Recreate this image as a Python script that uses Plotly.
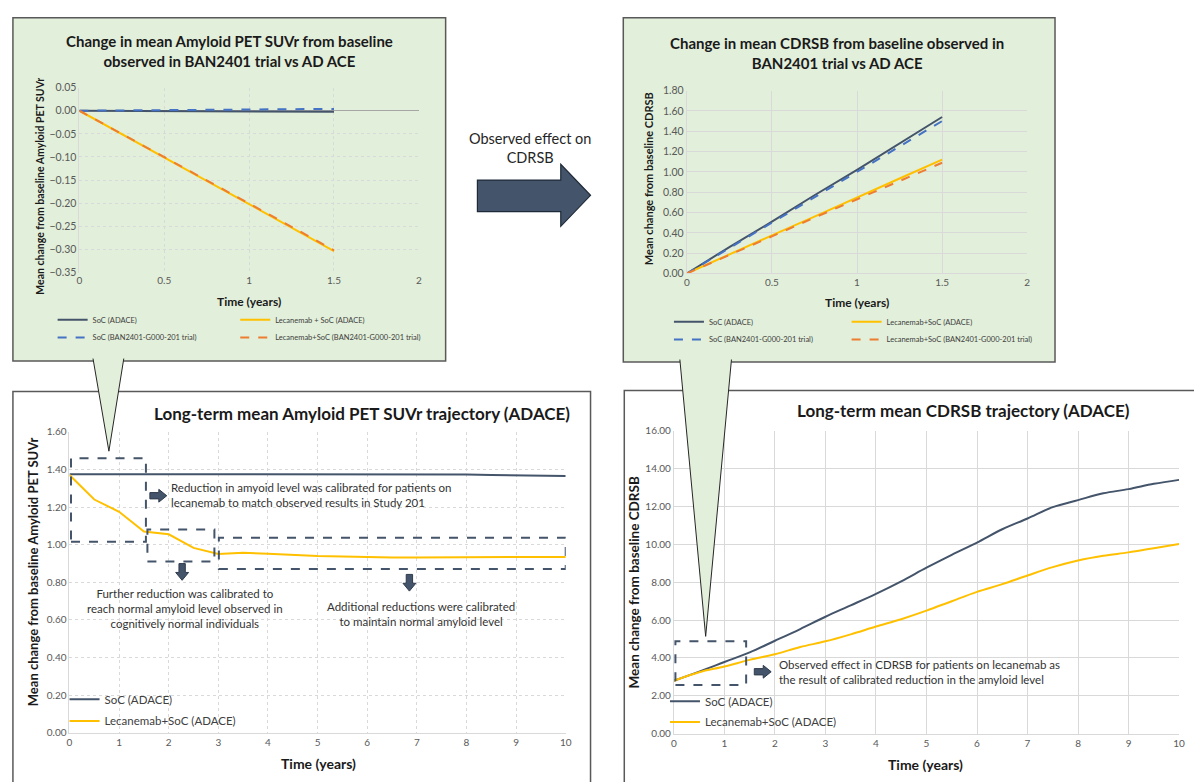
import plotly.graph_objects as go

W, H = 1194, 782
FONT = "Lato"

# ---------------- data ----------------
# Top-left: change in mean amyloid PET SUVr (trial period)
tl_time = [0, 0.25, 0.5, 0.75, 1.0, 1.25, 1.5]
tl_soc_adace = [0, -0.0003, -0.0007, -0.001, -0.0013, -0.0017, -0.002]
tl_lec_adace = [0, -0.051, -0.101, -0.152, -0.202, -0.253, -0.304]
tl_soc_trial = [0, 0.0007, 0.0013, 0.002, 0.0027, 0.0033, 0.004]
tl_lec_trial = [0, -0.050, -0.100, -0.151, -0.201, -0.251, -0.302]

# Top-right: change in mean CDRSB (trial period)
tr_time = [0, 0.25, 0.5, 0.75, 1.0, 1.25, 1.5]
tr_soc_adace = [0, 0.26, 0.51, 0.77, 1.02, 1.28, 1.54]
tr_lec_adace = [0, 0.19, 0.375, 0.56, 0.75, 0.935, 1.12]
tr_soc_trial = [0, 0.25, 0.50, 0.75, 1.00, 1.25, 1.50]
tr_lec_trial = [0, 0.18, 0.365, 0.55, 0.73, 0.91, 1.09]

# Bottom-left: long-term amyloid PET SUVr
bl_time = [0, 0.5, 1, 1.5, 2, 2.5, 3, 3.5, 4, 4.5, 5, 5.5, 6, 6.5, 7, 7.5, 8, 8.5, 9, 9.5, 10]
bl_soc = [1.375, 1.375, 1.375, 1.375, 1.375, 1.376, 1.376, 1.376, 1.377, 1.377, 1.377,
          1.377, 1.377, 1.377, 1.376, 1.375, 1.373, 1.370, 1.368, 1.366, 1.365]
bl_lec = [1.370, 1.240, 1.175, 1.070, 1.055, 0.983, 0.950, 0.957, 0.952, 0.945, 0.940,
          0.937, 0.933, 0.932, 0.932, 0.933, 0.935, 0.935, 0.935, 0.935, 0.935]

# Bottom-right: long-term CDRSB
br_time = [0, 0.5, 1, 1.5, 2, 2.5, 3, 3.5, 4, 4.5, 5, 5.5, 6, 6.5, 7, 7.5, 8, 8.5, 9, 9.5, 10]
br_soc = [2.80, 3.28, 3.79, 4.30, 4.91, 5.53, 6.18, 6.78, 7.39, 8.05, 8.77,
          9.45, 10.10, 10.80, 11.37, 11.97, 12.34, 12.70, 12.92, 13.20, 13.41]
br_lec = [2.80, 3.25, 3.55, 3.90, 4.20, 4.58, 4.88, 5.25, 5.66, 6.05, 6.50,
          7.00, 7.49, 7.90, 8.36, 8.80, 9.15, 9.40, 9.58, 9.80, 10.02]

C_SOC = "#44546A"
C_LEC = "#FFC000"
C_SOC_T = "#4472C4"
C_LEC_T = "#ED7D31"
GREEN = "#E2EFDA"
BORDER = "#595959"
GRID = "#D9D9D9"
TICK = "#595959"


def X(p):
    return p / W


def Y(p):
    return 1 - p / H


fig = go.Figure()


def add_line(x, y, name, color, dash, ax, legend, width=2, shape="linear"):
    fig.add_trace(go.Scatter(
        x=x, y=y, name=name, mode="lines",
        line=dict(color=color, width=width, dash=dash, shape=shape),
        xaxis="x" + ax, yaxis="y" + ax, legend=legend, showlegend=True,
        hoverinfo="skip"))


# top-left
add_line(tl_time, tl_soc_adace, "SoC (ADACE)", C_SOC, "solid", "", "legend")
add_line(tl_time, tl_lec_adace, "Lecanemab + SoC (ADACE)", C_LEC, "solid", "", "legend2")
add_line(tl_time, tl_soc_trial, "SoC (BAN2401-G000-201 trial)", C_SOC_T, "dash", "", "legend3")
add_line(tl_time, tl_lec_trial, "Lecanemab+SoC (BAN2401-G000-201 trial)", C_LEC_T, "dash", "", "legend4")
# top-right
add_line(tr_time, tr_soc_adace, "SoC (ADACE)", C_SOC, "solid", "2", "legend5")
add_line(tr_time, tr_lec_adace, "Lecanemab+SoC (ADACE)", C_LEC, "solid", "2", "legend6")
add_line(tr_time, tr_soc_trial, "SoC (BAN2401-G000-201 trial)", C_SOC_T, "dash", "2", "legend7")
add_line(tr_time, tr_lec_trial, "Lecanemab+SoC (BAN2401-G000-201 trial)", C_LEC_T, "dash", "2", "legend8")
# bottom-left
add_line(bl_time, bl_soc, "SoC (ADACE)", C_SOC, "solid", "3", "legend9")
add_line(bl_time, bl_lec, "Lecanemab+SoC (ADACE)", C_LEC, "solid", "3", "legend10")
# bottom-right
add_line(br_time, br_soc, "SoC (ADACE)", C_SOC, "solid", "4", "legend11", shape="spline")
add_line(br_time, br_lec, "Lecanemab+SoC (ADACE)", C_LEC, "solid", "4", "legend12", shape="spline")

# ---------------- axes ----------------
tickfont_small = dict(family=FONT, size=10, color=TICK)


def xaxis(dom, rng, dtick, anchor, griddash):
    return dict(domain=[X(dom[0]), X(dom[1])], range=rng, dtick=dtick, anchor=anchor,
                showgrid=True, gridcolor=GRID, griddash=griddash, gridwidth=1,
                zeroline=False, showline=False, ticks="", tickfont=tickfont_small,
                fixedrange=True)


def yaxis(dom, rng, dtick, anchor, griddash, fmt=".2f"):
    return dict(domain=[Y(dom[1]), Y(dom[0])], range=rng, dtick=dtick, anchor=anchor,
                showgrid=True, gridcolor=GRID, griddash=griddash, gridwidth=1,
                zeroline=False, showline=True, linecolor=GRID, linewidth=1,
                ticks="", tickformat=fmt, tickfont=tickfont_small, fixedrange=True)


layout = dict(
    width=W, height=H, margin=dict(l=0, r=0, t=0, b=0),
    paper_bgcolor="white", plot_bgcolor="rgba(0,0,0,0)",
    font=dict(family=FONT, color="#262626"),
    xaxis=xaxis((77, 419), [0, 2], 0.5, "y", "dot"),
    yaxis=yaxis((82, 270), [-0.35, 0.05], 0.05, "x", "dot"),
    xaxis2=xaxis((689, 1032), [0, 2], 0.5, "y2", "solid"),
    yaxis2=yaxis((85, 271), [0, 1.8], 0.2, "x2", "solid"),
    xaxis3=xaxis((67, 567), [0, 10], 1, "y3", "dot"),
    yaxis3=yaxis((432, 738), [0, 1.6], 0.2, "x3", "dot"),
    xaxis4=xaxis((676, 1185), [0, 10], 1, "y4", "solid"),
    yaxis4=yaxis((431, 739), [0, 16], 2, "x4", "solid"),
)
layout["yaxis"].update(zeroline=True, zerolinecolor="#A6A6A6", zerolinewidth=1.2)
layout["xaxis2"].update(showline=True, linecolor=GRID)
layout["xaxis3"].update(showline=True, linecolor=GRID)
layout["xaxis4"].update(showline=True, linecolor=GRID)
layout["yaxis2"]["tickfont"] = dict(family=FONT, size=10.5, color=TICK)
layout["yaxis"]["tickfont"] = dict(family=FONT, size=10.5, color=TICK)

# legends: one entry each, positioned like the reference
leg_specs = [
    ("legend", 50, 318, 7.5), ("legend2", 234, 318, 7.5),
    ("legend3", 50, 336, 7.5), ("legend4", 234, 336, 7.5),
    ("legend5", 671, 320, 7.5), ("legend6", 850, 320, 7.5),
    ("legend7", 671, 338, 7.5), ("legend8", 850, 338, 7.5),
    ("legend9", 62, 704, 11.5), ("legend10", 62, 726, 11.5),
    ("legend11", 667, 706, 11.5), ("legend12", 667, 727, 11.5),
]
for key, lx, ly, fs in leg_specs:
    layout[key] = dict(x=X(lx), y=Y(ly), xanchor="left", yanchor="middle",
                       bgcolor="rgba(0,0,0,0)", borderwidth=0,
                       font=dict(family=FONT, size=fs, color="#404040"),
                       itemwidth=30, tracegroupgap=0, itemclick=False,
                       itemdoubleclick=False)

fig.update_layout(**layout)

# ---------------- shapes ----------------
shapes = []


def rect_px(x0, y0, x1, y1, fill, layer="below", color=BORDER, width=1.5):
    shapes.append(dict(type="rect", xref="paper", yref="paper",
                       x0=X(x0), x1=X(x1), y0=Y(y1), y1=Y(y0),
                       fillcolor=fill, line=dict(color=color, width=width),
                       layer=layer))


def path_px(points, fill, color, width=1.0, close=True, layer="above"):
    d = "M " + " L ".join(f"{X(a):.5f},{Y(b):.5f}" for a, b in points)
    if close:
        d += " Z"
    shapes.append(dict(type="path", xref="paper", yref="paper", path=d,
                       fillcolor=fill, line=dict(color=color, width=width),
                       layer=layer))


# panels
rect_px(10, 11, 446, 360, GREEN)
rect_px(625, 11, 1060, 361, GREEN)
rect_px(10, 391, 592, 800, "white")
rect_px(626, 390, 1210, 800, "white")

# dashed highlight boxes (in data coordinates of the bottom charts)
def dbox(ax, x0, x1, y0, y1):
    shapes.append(dict(type="rect", xref="x" + ax, yref="y" + ax,
                       x0=x0, x1=x1, y0=y0, y1=y1, fillcolor="rgba(0,0,0,0)",
                       line=dict(color=C_SOC, width=2, dash="dash"), layer="above"))


dbox("3", 0.03, 1.54, 1.015, 1.46)
dbox("3", 1.57, 2.92, 0.911, 1.08)
dbox("3", 3.01, 10.0, 0.870, 1.037)
dbox("4", 0.03, 1.43, 2.58, 4.88)


# small block arrows
def arrow_right(x0, x1, yc, bh=3.2, hh=6.5, hl=8):
    path_px([(x0, yc - bh), (x1 - hl, yc - bh), (x1 - hl, yc - hh), (x1, yc),
             (x1 - hl, yc + hh), (x1 - hl, yc + bh), (x0, yc + bh)],
            C_SOC, "#2F3B4C", 1.0)


def arrow_down(xc, y0, y1, bw=3.2, hw=6.5, hl=8):
    path_px([(xc - bw, y0), (xc + bw, y0), (xc + bw, y1 - hl), (xc + hw, y1 - hl),
             (xc, y1), (xc - hw, y1 - hl), (xc - bw, y1 - hl)],
            C_SOC, "#2F3B4C", 1.0)


arrow_right(148, 165, 497)
arrow_down(180.5, 566, 583)
arrow_down(409.5, 577, 594)
arrow_right(757, 774, 676)

# big middle arrow
path_px([(478, 176), (562, 176), (562, 160), (592, 191.5), (562, 223),
         (562, 208), (478, 208)], C_SOC, "#1F2A38", 1.2)

# callout triangles (open at the top so they merge with the panel)
path_px([(90.7, 357.5), (106.7, 451.7), (121.7, 357.5)], GREEN, "#262626", 1.0, close=False)
path_px([(682, 358.5), (708, 640), (734, 358.5)], GREEN, "#262626", 1.0, close=False)

fig.update_layout(shapes=shapes)

# ---------------- annotations ----------------
anns = []


def ann(text, x, y, size, bold=False, xanchor="center", yanchor="middle",
        color="#1A1A1A", angle=0, align="center"):
    if bold:
        text = "<b>" + text + "</b>"
    anns.append(dict(text=text, x=X(x), y=Y(y), xref="paper", yref="paper",
                     xanchor=xanchor, yanchor=yanchor, showarrow=False,
                     textangle=angle, align=align,
                     font=dict(family=FONT, size=size, color=color)))


# titles
ann("Change in mean Amyloid PET SUVr from baseline<br>observed in BAN2401 trial vs AD ACE",
    228, 44.5, 15, bold=True)
ann("Change in mean CDRSB from baseline observed in<br>BAN2401 trial vs AD ACE",
    840, 46.5, 15, bold=True)
ann("Long-term mean Amyloid PET SUVr trajectory (ADACE)", 362, 413, 17, bold=True)
ann("Long-term mean CDRSB trajectory (ADACE)", 968, 410, 17, bold=True)

# axis titles
ann("Mean change from baseline Amyloid PET SUVr", 37, 182, 10.5, bold=True, angle=-90)
ann("Time (years)", 248, 299, 12, bold=True)
ann("Mean change from baseline CDRSB", 650, 175, 11, bold=True, angle=-90)
ann("Time (years)", 860, 301, 12, bold=True)
ann("Mean change from baseline Amyloid PET SUVr", 31, 574, 13, bold=True, angle=-90)
ann("Time (years)", 318, 769, 14, bold=True)
ann("Mean change from baseline CDRSB", 636, 585, 13.5, bold=True, angle=-90)
ann("Time (years)", 930, 770, 14, bold=True)

# middle arrow label
ann("Observed effect on<br>CDRSB", 531, 143, 14.5, color="#262626")

# explanatory notes
ann("Reduction in amyoid level was calibrated for patients on<br>"
    "lecanemab to match observed results in Study 201",
    167, 496.5, 11.5, xanchor="left", align="left", color="#333333")
ann("Further reduction was calibrated to<br>reach normal amyloid level observed in<br>"
    "cognitively normal individuals", 183.5, 611.5, 11.5, color="#333333")
ann("Additional reductions were calibrated<br>to maintain normal amyloid level",
    421, 617.5, 11.5, color="#333333")
ann("Observed effect in CDRSB for patients on lecanemab as<br>"
    "the result of calibrated reduction in the amyloid level",
    780, 676.5, 11.5, xanchor="left", align="left", color="#333333")

fig.update_layout(annotations=anns)

fig.write_html(
    "out.html",
    config={"displayModeBar": False},
    post_script="document.body.style.margin='0';document.body.style.overflow='hidden';",
)
